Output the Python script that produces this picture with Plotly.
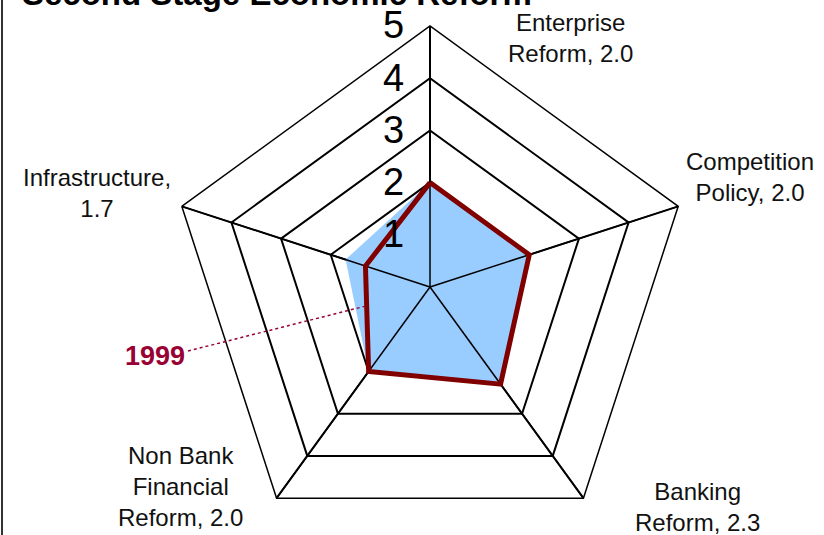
import plotly.graph_objects as go

categories = ["Enterprise Reform", "Competition Policy", "Banking Reform",
              "Non Bank Financial Reform", "Infrastructure"]
values_latest = [2.0, 2.0, 2.3, 2.0, 1.7]
values_1999 = [2.0, 2.0, 2.3, 2.0, 1.3]
axis_labels = ["Enterprise<br>Reform, 2.0", "Competition<br>Policy, 2.0",
               "Banking<br>Reform, 2.3", "Non Bank<br>Financial<br>Reform, 2.0",
               "Infrastructure,<br>1.7"]
radial_ticks = [1, 2, 3, 4, 5]
r_max = 5

W, H = 824, 560
FONT = "Liberation Sans, Arial, sans-serif"

fig = go.Figure()

# filled area (current values)
fig.add_trace(go.Scatterpolar(
    r=values_latest + values_latest[:1],
    theta=categories + categories[:1],
    mode="lines", fill="toself",
    fillcolor="#99CCFF", line=dict(width=0, color="#99CCFF"),
    showlegend=False, hoverinfo="skip"
))

# spokes drawn over the fill, as in the original
for c in categories:
    fig.add_trace(go.Scatterpolar(
        r=[0, r_max], theta=[c, c], mode="lines",
        line=dict(color="black", width=1.5),
        showlegend=False, hoverinfo="skip"
    ))

# 1999 outline
fig.add_trace(go.Scatterpolar(
    r=values_1999 + values_1999[:1],
    theta=categories + categories[:1],
    mode="lines", line=dict(color="#800000", width=5),
    showlegend=False
))

# polar area: centre (430, 287), radius 261 px
cx, cy, rad = 430, 287, 261
fig.update_layout(
    width=W, height=H,
    margin=dict(l=0, r=0, t=0, b=0),
    paper_bgcolor="white",
    font=dict(family=FONT, color="black"),
    polar=dict(
        domain=dict(x=[(cx - rad) / W, (cx + rad) / W],
                    y=[(H - cy - rad) / H, (H - cy + rad) / H]),
        bgcolor="white",
        gridshape="linear",
        radialaxis=dict(range=[0, r_max], tickvals=radial_ticks, angle=90, tickangle=90,
                        side="counterclockwise", showline=False,
                        ticks="outside", ticklen=12, tickcolor="rgba(0,0,0,0)",
                        gridcolor="black", gridwidth=1.5,
                        tickfont=dict(size=38, family=FONT, color="black"),
                        layer="above traces"),
        angularaxis=dict(rotation=90, direction="clockwise",
                         categoryorder="array", categoryarray=categories,
                         showticklabels=False, ticks="",
                         linecolor="black", linewidth=1.5,
                         gridcolor="black", gridwidth=1.5,
                         layer="above traces"),
    ),
)

label_pos = [(570, 38), (750, 177), (697, 507), (180, 486), (97, 193)]
for text, (x, y) in zip(axis_labels, label_pos):
    fig.add_annotation(x=x / W, y=1 - y / H, xref="paper", yref="paper",
                       text=text, showarrow=False, xanchor="center", yanchor="middle",
                       font=dict(size=24, family=FONT, color="#111111"))

# series label with dotted leader line
fig.add_annotation(x=155 / W, y=1 - 356 / H, xref="paper", yref="paper",
                   text="<b>1999</b>", showarrow=False,
                   xanchor="center", yanchor="middle",
                   font=dict(size=27, family=FONT, color="#990033"))
fig.add_shape(type="line", xref="paper", yref="paper",
              x0=188 / W, y0=1 - 351 / H, x1=366 / W, y1=1 - 306 / H,
              line=dict(color="#990033", width=1.5, dash="dot"))

# title (cut off at the top as in the original)
fig.add_annotation(x=20 / W, y=1, xref="paper", yref="paper",
                   text="<b>Second Stage Economic Reform</b>", showarrow=False,
                   xanchor="left", yanchor="bottom", yshift=-14,
                   font=dict(size=33, family=FONT, color="black"))

# chart frame edge on the left
fig.add_shape(type="line", xref="paper", yref="paper",
              x0=2 / W, x1=2 / W, y0=0, y1=1,
              line=dict(color="#333333", width=2))

fig.write_html("out.html", config={"displayModeBar": False},
               post_script="document.body.style.margin='0';document.body.style.overflow='hidden';")
